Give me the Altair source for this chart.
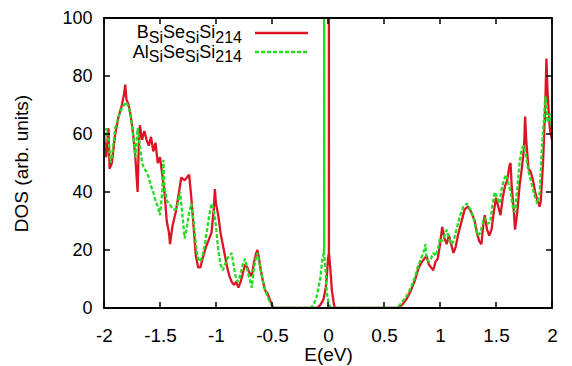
import altair as alt
import pandas as pd

# ---------------- data ----------------
E_B = [-2.00, -1.98, -1.96, -1.95, -1.93, -1.90, -1.87, -1.84, -1.82, -1.81, -1.80, -1.78, -1.76, -1.74,
       -1.72, -1.70, -1.69, -1.68, -1.66, -1.64, -1.62, -1.60, -1.58, -1.56, -1.54, -1.52, -1.50, -1.48,
       -1.46, -1.44, -1.42, -1.41, -1.39, -1.36, -1.33, -1.31, -1.28, -1.26, -1.24, -1.22, -1.20, -1.18,
       -1.16, -1.14, -1.12, -1.09, -1.06, -1.04, -1.02, -1.01, -1.00, -0.98, -0.96, -0.94, -0.92, -0.90,
       -0.88, -0.86, -0.84, -0.82, -0.80, -0.78, -0.76, -0.74, -0.72, -0.70, -0.68, -0.66, -0.64, -0.63,
       -0.62, -0.60, -0.58, -0.56, -0.54, -0.52, -0.50, -0.49, -0.10, -0.07, -0.04, -0.02, -0.01, 0.00,
       0.008, 0.008, 0.0085, 0.02, 0.035, 0.05, 0.06, 0.60, 0.62, 0.66, 0.70, 0.74, 0.78, 0.81, 0.84, 0.86,
       0.88, 0.90, 0.92, 0.94, 0.96, 0.98, 1.00, 1.02, 1.04, 1.06, 1.08, 1.10, 1.12, 1.14, 1.16, 1.18,
       1.20, 1.22, 1.25, 1.28, 1.31, 1.33, 1.35, 1.37, 1.39, 1.40, 1.42, 1.44, 1.46, 1.48, 1.50, 1.52,
       1.54, 1.56, 1.58, 1.60, 1.62, 1.63, 1.64, 1.66, 1.67, 1.69, 1.71, 1.73, 1.75, 1.76, 1.77, 1.79,
       1.81, 1.83, 1.85, 1.87, 1.89, 1.90, 1.92, 1.94, 1.95, 1.96, 1.97, 1.98, 2.00]
DOS_B = [60, 52, 62, 48, 50, 60, 66, 70, 74, 77, 72, 70, 66, 60,
         52, 40, 55, 63, 58, 61, 58, 56, 59, 54, 57, 50, 52, 46,
         40, 30, 26, 22, 28, 33, 40, 45, 44, 45, 46, 38, 28, 18,
         14, 14, 17, 21, 24, 26, 34, 41, 36, 32, 26, 22, 18, 14,
         11, 9, 8, 9, 7, 9, 12, 15, 14, 12, 11, 16, 19, 20,
         18, 13, 9, 6, 5, 3, 1, 0, 0, 1, 3, 7, 11, 17,
         19, 300, 19, 14, 6, 2, 0, 0, 0, 1, 3, 6, 10, 14, 16, 17,
         18, 15, 14, 13, 16, 17, 22, 28, 24, 22, 25, 22, 19, 21, 25, 28,
         31, 34, 35, 33, 30, 26, 23, 22, 30, 32, 27, 25, 27, 33, 38, 35,
         32, 38, 42, 44, 49, 50, 42, 33, 27, 33, 42, 48, 55, 66, 58, 48,
         47, 44, 40, 37, 35, 37, 50, 70, 86, 75, 68, 62, 58]

E_AL = [-2.00, -1.98, -1.96, -1.94, -1.92, -1.90, -1.87, -1.84, -1.82, -1.80, -1.78, -1.76, -1.74, -1.72,
        -1.70, -1.68, -1.66, -1.64, -1.62, -1.60, -1.58, -1.56, -1.54, -1.52, -1.50, -1.48, -1.47, -1.46,
        -1.44, -1.42, -1.40, -1.38, -1.36, -1.34, -1.32, -1.30, -1.28, -1.26, -1.24, -1.22, -1.20, -1.18,
        -1.16, -1.14, -1.12, -1.10, -1.08, -1.06, -1.04, -1.02, -1.00, -0.98, -0.96, -0.94, -0.92, -0.90,
        -0.88, -0.86, -0.84, -0.82, -0.80, -0.78, -0.76, -0.74, -0.72, -0.70, -0.68, -0.66, -0.64, -0.63,
        -0.62, -0.60, -0.58, -0.56, -0.54, -0.52, -0.50, -0.48, -0.16, -0.13, -0.10, -0.07, -0.05, -0.037,
        -0.035, -0.035, -0.0345, -0.02, -0.01, 0.01, 0.03, 0.62, 0.66, 0.70, 0.74, 0.78, 0.80, 0.82, 0.84,
        0.86, 0.87, 0.88, 0.90, 0.92, 0.94, 0.96, 0.98, 1.00, 1.02, 1.04, 1.06, 1.08, 1.10, 1.12, 1.14,
        1.16, 1.18, 1.21, 1.24, 1.27, 1.30, 1.32, 1.34, 1.36, 1.38, 1.40, 1.43, 1.45, 1.47, 1.49, 1.51,
        1.53, 1.55, 1.57, 1.59, 1.61, 1.63, 1.65, 1.67, 1.69, 1.71, 1.73, 1.75, 1.77, 1.79, 1.81, 1.83,
        1.85, 1.87, 1.89, 1.91, 1.93, 1.94, 1.95, 1.96, 1.98, 2.00]
DOS_AL = [55, 62, 58, 50, 55, 62, 66, 69, 70, 71, 69, 66, 60, 52,
          62, 56, 50, 48, 47, 45, 42, 40, 37, 35, 32, 40, 51, 42,
          37, 36, 35, 34, 34, 36, 40, 32, 24, 28, 33, 36, 30, 22,
          17, 16, 18, 22, 27, 32, 36, 34, 28, 20, 15, 13, 15, 17,
          18, 19, 14, 10, 9, 12, 15, 17, 13, 10, 7, 14, 18, 19,
          17, 13, 9, 6, 4, 2, 1, 0, 0, 1, 4, 10, 17, 19,
          19, 300, 19, 12, 5, 1, 0, 0, 2, 4, 7, 11, 14, 16, 18,
          20, 22, 17, 16, 17, 19, 18, 20, 24, 23, 25, 27, 24, 22, 23, 26,
          29, 32, 35, 36, 34, 31, 27, 25, 26, 29, 31, 29, 30, 36, 40, 38,
          36, 41, 44, 46, 43, 40, 35, 33, 41, 50, 55, 56, 52, 47, 44, 41,
          38, 36, 40, 55, 66, 73, 70, 64, 67, 62]

X_TICKS = [-2, -1.5, -1, -0.5, 0, 0.5, 1, 1.5, 2]
Y_TICKS = [0, 20, 40, 60, 80, 100]

LABEL_B = [("B", False), ("Si", True), ("Se", False), ("Si", True), ("Si", False), ("214", True)]
LABEL_AL = [("Al", False), ("Si", True), ("Se", False), ("Si", True), ("Si", False), ("214", True)]

RED = "#dc1424"
GREEN = "#22dd22"
FONT = "Liberation Sans"

W, H = 448, 290

df_b = pd.DataFrame({"E": E_B, "DOS": DOS_B, "i": range(len(E_B))})
df_al = pd.DataFrame({"E": E_AL, "DOS": DOS_AL, "i": range(len(E_AL))})
df_xt = pd.DataFrame({"t": X_TICKS})
df_yt = pd.DataFrame({"t": Y_TICKS})

xscale = alt.Scale(domain=[-2, 2], nice=False, zero=False)
yscale = alt.Scale(domain=[0, 100], nice=False)

xaxis = alt.Axis(values=X_TICKS, labelExpr="datum.value + ''", ticks=False, domain=False, grid=False,
                 labelFontSize=19, titleFontSize=19, labelFont=FONT, titleFont=FONT,
                 titleFontWeight="normal", labelColor="black", titleColor="black",
                 labelPadding=18, titlePadding=0, labelFlush=False)
yaxis = alt.Axis(values=Y_TICKS, ticks=False, domain=False, grid=False,
                 labelFontSize=18, titleFontSize=19, labelFont=FONT, titleFont=FONT,
                 titleFontWeight="normal", labelColor="black", titleColor="black",
                 labelPadding=12, titlePadding=30, labelFlush=False)

line_b = alt.Chart(df_b).mark_line(color=RED, strokeWidth=2.3, clip=True, strokeMiterLimit=1).encode(
    x=alt.X("E:Q", scale=xscale, axis=xaxis, title="E(eV)"),
    y=alt.Y("DOS:Q", scale=yscale, axis=yaxis, title="DOS (arb. units)"),
    order="i:Q",
)
line_al = alt.Chart(df_al).mark_line(color=GREEN, strokeWidth=2.3, strokeDash=[4, 2], clip=True,
                                     strokeMiterLimit=1).encode(
    x=alt.X("E:Q"), y=alt.Y("DOS:Q"), order="i:Q",
)

TL = 6
tick_bottom = alt.Chart(df_xt).mark_rule(color="black", strokeWidth=1.5).encode(
    x="t:Q", y=alt.value(H), y2=alt.value(H - TL))
tick_top = alt.Chart(df_xt).mark_rule(color="black", strokeWidth=1.5).encode(
    x="t:Q", y=alt.value(0), y2=alt.value(TL))
tick_left = alt.Chart(df_yt).mark_rule(color="black", strokeWidth=1.5).encode(
    y="t:Q", x=alt.value(0), x2=alt.value(TL))
tick_right = alt.Chart(df_yt).mark_rule(color="black", strokeWidth=1.5).encode(
    y="t:Q", x=alt.value(W), x2=alt.value(W - TL))

one = alt.Data(values=[{"k": 0}])
frame = alt.Chart(one).mark_rect(fillOpacity=0, stroke="black", strokeWidth=1.8).encode(
    x=alt.value(0), x2=alt.value(W), y=alt.value(0), y2=alt.value(H))

# legend
leg_b = alt.Chart(one).mark_rule(color=RED, strokeWidth=2.5).encode(
    x=alt.value(151), x2=alt.value(204), y=alt.value(15))
leg_al = alt.Chart(one).mark_rule(color=GREEN, strokeWidth=2.5, strokeDash=[4, 2]).encode(
    x=alt.value(151), x2=alt.value(204), y=alt.value(34))

CW = {"B": .667, "S": .667, "i": .222, "e": .556, "A": .667, "l": .222,
      "2": .556, "1": .556, "4": .556}
FS, SS = 18, 16


def seg_width(s, sub):
    return sum(CW[c] for c in s) * (SS if sub else FS)


def label_layers(parts, right, base):
    layers = []
    x = right
    for s, sub in reversed(parts):
        x -= seg_width(s, sub)
        layers.append(alt.Chart(one).mark_text(
            text=s, align="left", baseline="alphabetic", font=FONT,
            fontSize=SS if sub else FS, color="black").encode(
            x=alt.value(x), y=alt.value(base + (4.5 if sub else 0))))
    return layers


texts = label_layers(LABEL_B, 138, 20) + label_layers(LABEL_AL, 138, 39.5)

chart = alt.layer(line_b, line_al, frame, tick_bottom, tick_top, tick_left, tick_right,
                  leg_b, leg_al, *texts).properties(
    width=W, height=H,
    padding={"left": 96, "top": 10, "right": 12, "bottom": 58},
    autosize=alt.AutoSizeParams(type="none"),
).configure_view(stroke="black", strokeWidth=1.5).configure(background="white")

chart.save("out.html", embed_options={"renderer": "svg", "actions": False})
